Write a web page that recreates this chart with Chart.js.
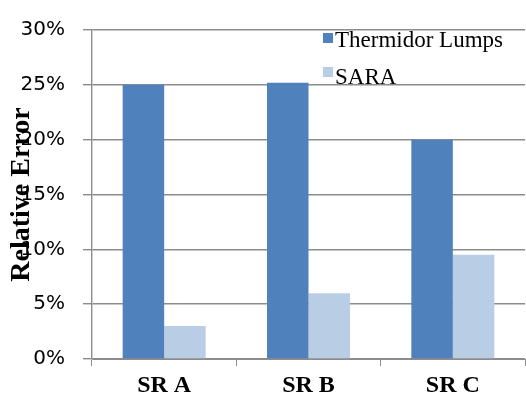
<!DOCTYPE html>
<html>
<head>
<meta charset="utf-8">
<script src="https://cdn.jsdelivr.net/npm/chart.js@4/dist/chart.umd.min.js"></script>
<style>
  html, body { margin: 0; padding: 0; background: #fff; }
  #wrap { width: 526px; height: 396px; position: relative; }
</style>
</head>
<body>
<div id="wrap"><canvas id="c" width="526" height="396"></canvas></div>
<script>
// Relative error per stream, in percent
const categories = ['SR A', 'SR B', 'SR C'];
const thermidorLumps = [25.0, 25.2, 20.0];
const sara = [3.0, 6.0, 9.5];
const seriesNames = ['Thermidor Lumps', 'SARA'];
const yTicks = [0, 5, 10, 15, 20, 25, 30];

const colors = ['#4F81BD', '#B9CDE5'];
const gridColor = '#8c8c8c';

// Legend drawn inside the plot area, top right
const insideLegend = {
  id: 'insideLegend',
  afterDraw(chart) {
    const ctx = chart.ctx;
    const rows = [
      { box: 33, base: 47 },
      { box: 67, base: 84 }
    ];
    ctx.save();
    ctx.font = '23px "Liberation Serif", "Times New Roman", serif';
    ctx.textBaseline = 'alphabetic';
    ctx.textAlign = 'left';
    chart.data.datasets.forEach((ds, i) => {
      ctx.fillStyle = ds.backgroundColor;
      ctx.fillRect(323, rows[i].box, 10, 10);
      ctx.fillStyle = '#000';
      ctx.fillText(ds.label, 335, rows[i].base);
    });
    ctx.restore();
  }
};

new Chart(document.getElementById('c'), {
  type: 'bar',
  data: {
    labels: categories,
    datasets: [
      { label: seriesNames[0], data: thermidorLumps, backgroundColor: colors[0] },
      { label: seriesNames[1], data: sara, backgroundColor: colors[1] }
    ]
  },
  options: {
    responsive: false,
    animation: false,
    devicePixelRatio: 1,
    layout: { padding: { top: 24, right: 1, left: 0, bottom: 0 } },
    datasets: {
      bar: { categoryPercentage: 0.575, barPercentage: 1.0 }
    },
    plugins: {
      legend: { display: false },
      tooltip: { enabled: false }
    },
    scales: {
      x: {
        grid: { drawOnChartArea: false, drawTicks: true, tickLength: 7, color: gridColor, offset: true },
        border: { color: gridColor, width: 1 },
        ticks: {
          color: '#000',
          padding: 5,
          font: { family: '"Liberation Serif", "Times New Roman", serif', size: 24, weight: 'bold' }
        },
        afterFit(scale) { scale.height = 37; }
      },
      y: {
        min: 0,
        max: 30,
        afterBuildTicks(scale) { scale.ticks = yTicks.map(v => ({ value: v })); },
        grid: { color: gridColor, lineWidth: 1.4, tickLength: 9 },
        border: { color: gridColor, width: 1.4 },
        ticks: {
          color: '#000',
          padding: 18,
          font: { family: '"DejaVu Sans", sans-serif', size: 20 },
          callback: v => v + '%'
        },
        title: {
          display: true,
          text: 'Relative Error',
          color: '#000',
          padding: { top: 5, bottom: 0 },
          font: { family: '"Liberation Serif", "Times New Roman", serif', size: 28, weight: 'bold' }
        },
        afterFit(scale) { scale.width = 92; }
      }
    }
  },
  plugins: [insideLegend]
});
</script>
</body>
</html>
